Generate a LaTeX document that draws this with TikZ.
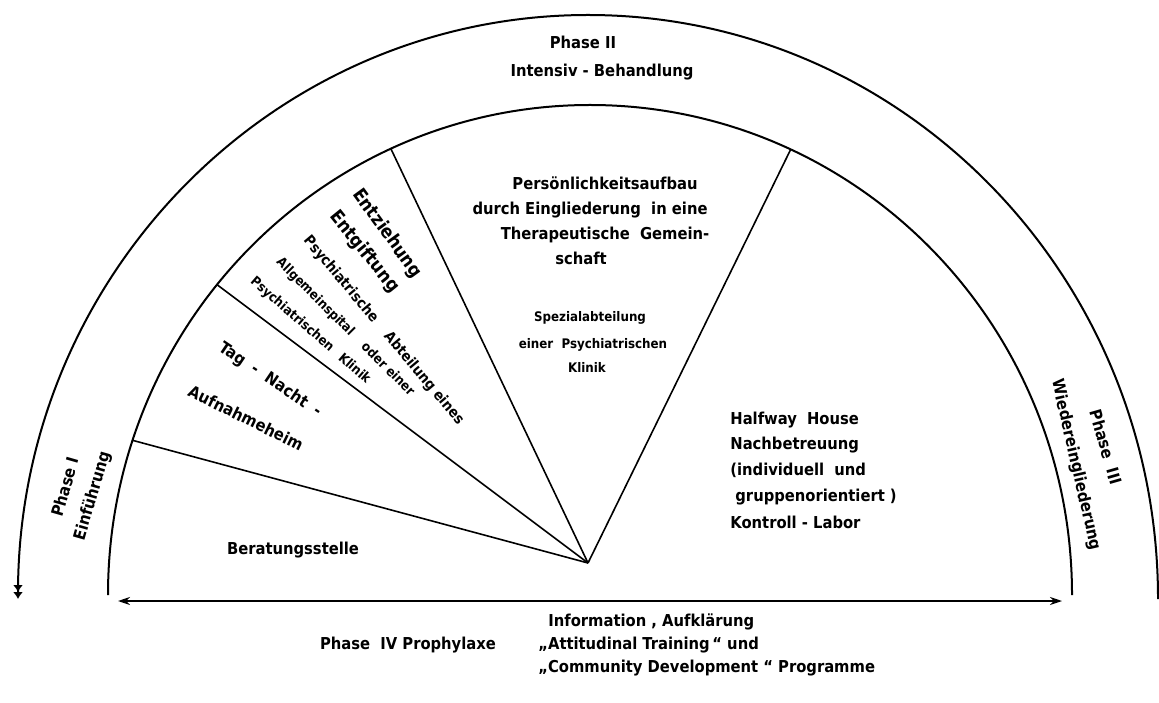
\documentclass[tikz,border=0pt]{standalone}
\usepackage{fontspec}
\setmainfont{DejaVu Sans Condensed}
\usetikzlibrary{calc,arrows.meta}
\newcommand\fsz[1]{\fontsize{#1}{#1}\selectfont}
\begin{document}
\begin{tikzpicture}[x=0.5pt,y=0.5pt,
  arcline/.style={line width=1pt},
  spoke/.style={line width=0.8pt},
  txt/.style={font=\bfseries\fsz{8.2}, inner sep=0pt},
  bigtxt/.style={font=\bfseries\fsz{9.2}, inner sep=0pt},
  midtxt/.style={font=\bfseries\fsz{7.3}, inner sep=0pt},
  smalltxt/.style={font=\bfseries\fsz{6.6}, inner sep=0pt}]
\useasboundingbox (0,0) rectangle (1159,702);
% arcs
\draw[arcline,{Latex[length=3.5pt,width=5pt]Latex[length=3.5pt,width=5pt]}-] (18,103) arc[start angle=180,end angle=0,x radius=570,y radius=584];
\draw[arcline] (108,107) arc[start angle=180,end angle=0,x radius=482,y radius=490];
% spokes
\coordinate (apex) at (588,139);
\coordinate (ic) at (590,107);
\coordinate (s1) at ($(ic)+(161.6:482 and 490)$);
\coordinate (s2) at ($(ic)+(140.7:482 and 490)$);
\coordinate (s3) at ($(ic)+(114.4:482 and 490)$);
\coordinate (s4) at ($(ic)+(65.4:482 and 490)$);
\draw[spoke] (apex) -- (s1);
\draw[spoke] (apex) -- (s2);
\draw[spoke] (apex) -- (s3);
\draw[spoke] (apex) -- (s4);
% baseline arrow
\coordinate (al) at (118,101);
\coordinate (ar) at (1062,101);
\draw[line width=1pt,{Stealth[length=6pt,width=4pt]}-{Stealth[length=6pt,width=4pt]}] (al) -- (ar);
% Phase labels
\node[txt] (p2) at (583,660) {Phase\ II};
\node[txt] (p2b) at (602,630) {Intensiv - Behandlung};
\node[txt,rotate=74] (p1) at (65,215) {Phase I};
\node[txt,rotate=74] (p1b) at (93,206) {Einführung};
\node[txt,rotate=-74] (p3) at (1106,255) {Phase\ \ III};
\node[txt,rotate=-77] (p3b) at (1076,237) {Wiedereingliederung};
% sectors
\node[txt] (ber) at (293,152) {Beratungsstelle};
\node[txt,rotate=-34] (tag) at (270,322) {Tag\ \ -\ \ Nacht\ \ -};
\node[txt,rotate=-26] (auf) at (246,284) {Aufnahmeheim};
\node[bigtxt,rotate=-54,anchor=west] (ent1) at (356,511) {Entziehung};
\node[bigtxt,rotate=-51,anchor=west] (ent2) at (333,489) {Entgiftung};
\node[midtxt,rotate=-50,anchor=west] (psy1) at (306,464) {Psychiatrische\hspace{1.2em}Abteilung eines};
\node[smalltxt,rotate=-45,anchor=west] (allg) at (278,442) {Allgemeinspital\hspace{1.2em}oder einer};
\node[smalltxt,rotate=-41,anchor=west] (psy2) at (252,422) {Psychiatrischen\hspace{0.8em}Klinik};
\node[txt] (pa1) at (605,519) {Persönlichkeitsaufbau};
\node[txt] (pa2) at (590,492) {durch Eingliederung\ \ in eine};
\node[txt] (pa3) at (605,467) {Therapeutische\ \ Gemein-};
\node[txt] (pa4) at (581,444) {schaft};
\node[smalltxt] (sp1) at (590,384) {Spezialabteilung};
\node[smalltxt] (sp2) at (593,357) {einer\ \ Psychiatrischen};
\node[smalltxt] (sp3) at (587,335) {Klinik};
\node[txt,anchor=west] (hw1) at (730,282) {Halfway\ \ House};
\node[txt,anchor=west] (hw2) at (730,257) {Nachbetreuung};
\node[txt,anchor=west] (hw3) at (730,232) {(individuell\ \ und};
\node[txt,anchor=west] (hw4) at (735,205) {gruppenorientiert )};
\node[txt,anchor=west] (hw5) at (730,180) {Kontroll - Labor};
% Phase IV
\node[txt] (p4) at (408,57) {Phase\ \ IV Prophylaxe};
\node[txt,anchor=west] (i1) at (548,80) {Information , Aufklärung};
\node[txt,anchor=west] (i2) at (538,57) {„Attitudinal Training\,“ und};
\node[txt,anchor=west] (i3) at (538,34) {„Community Development “ Programme};
\end{tikzpicture}
\end{document}
